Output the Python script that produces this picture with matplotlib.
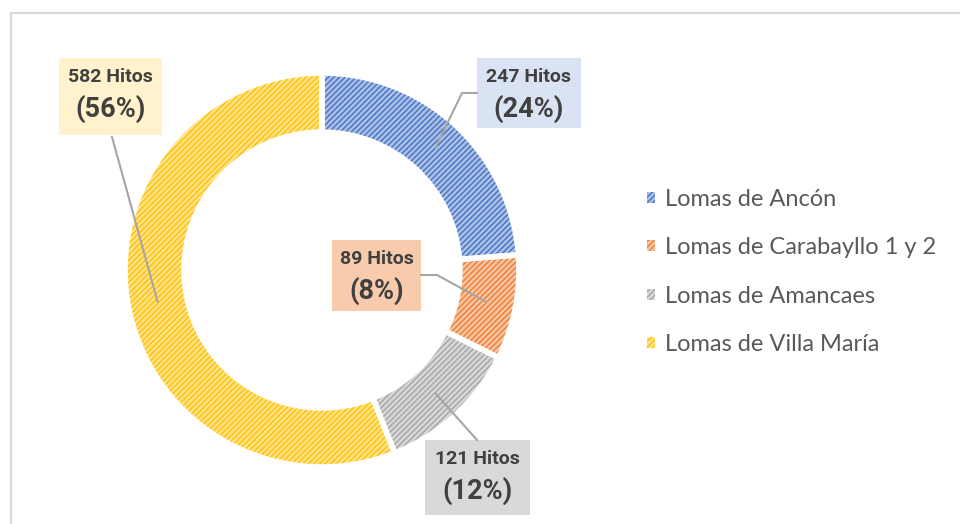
import matplotlib
matplotlib.use("Agg")
import matplotlib.pyplot as plt
from matplotlib.patches import Rectangle, Patch
import matplotlib.colors as mcolors
import numpy as np

categories = ["Lomas de Ancón", "Lomas de Carabayllo 1 y 2", "Lomas de Amancaes", "Lomas de Villa María"]
values = [247, 89, 121, 582]
pct_labels = ["(24%)", "(8%)", "(12%)", "(56%)"]
colors = ["#4472C4", "#ED7D31", "#A5A5A5", "#FFC000"]
box_colors = ["#DAE3F3", "#F8CBAD", "#D9D9D9", "#FFF2CC"]

W, H = 960, 524
plt.rcParams['hatch.linewidth'] = 1.0
fig = plt.figure(figsize=(9.6, 5.24), dpi=100)

def fx(x):
    return x / W
def fy(y):
    return 1 - y / H

# frame
fig.patches.append(Rectangle((fx(11), -0.1), 1.2, fy(13) + 0.1, transform=fig.transFigure,
                             fill=False, edgecolor="#D9D9D9", linewidth=1.5))

cx, cy, R = 322, 270, 197
ax = fig.add_axes([fx(cx - R), fy(cy + R), 2 * R / W, 2 * R / H])

light = [tuple(np.array(mcolors.to_rgb(c)) * 0.45 + 0.55) for c in colors]
wedges, _ = ax.pie(values, colors=light, startangle=90, counterclock=False, radius=1,
                   wedgeprops=dict(width=0.3, linewidth=0))
for w, c in zip(wedges, colors):
    w.set_hatch("//////")
    w.set_edgecolor(c)
    w.set_linewidth(0)
ax.pie(values, colors=["none"] * 4, startangle=90, counterclock=False, radius=1,
       wedgeprops=dict(width=0.3, linewidth=4, edgecolor="white", fill=False))
ax.set_xlim(-1, 1); ax.set_ylim(-1, 1); ax.axis("off")

# label boxes (pixel layout)
boxes = [(477, 58, 581, 128), (332, 240, 421, 311), (425, 440, 530, 515), (59, 58, 162, 135)]
elbows = [((462, 93), (477, 93)), ((437, 275), (421, 275)), (None, (477, 440)), (None, (112, 137))]
font = ['Roboto', 'DejaVu Sans']
total = sum(values)
ang = 90.0
for i, v in enumerate(values):
    span = v / total * 360
    mid = np.deg2rad(ang - span / 2)
    ang -= span
    px = cx + 0.85 * R * np.cos(mid)
    py = cy - 0.85 * R * np.sin(mid)
    x0, y0, x1, y1 = boxes[i]
    fig.patches.append(Rectangle((fx(x0), fy(y1)), (x1 - x0) / W, (y1 - y0) / H,
                                 transform=fig.transFigure, facecolor=box_colors[i],
                                 edgecolor="none", zorder=3))
    el, end = elbows[i]
    pts = [(px, py)] + ([el] if el else []) + [end]
    fig.add_artist(plt.Line2D([fx(p[0]) for p in pts], [fy(p[1]) for p in pts],
                              transform=fig.transFigure, color="#A6A6A6", linewidth=1.5, zorder=4))
    xc = (x0 + x1) / 2
    fig.text(fx(xc), fy(y0 + 19), f"{v} Hitos", ha="center", va="center", fontsize=14,
             fontweight="bold", family=font, color="#404040", zorder=5)
    fig.text(fx(xc), fy(y0 + 51), pct_labels[i], ha="center", va="center", fontsize=19.5,
             fontweight="bold", family=font, color="#404040", zorder=5)

handles = [Patch(facecolor=l, edgecolor=c, hatch="//////", linewidth=0) for l, c in zip(light, colors)]
leg = fig.legend(handles, categories, loc="center left", bbox_to_anchor=(fx(647), fy(272)),
                 frameon=False, prop=dict(family=['Lato', 'DejaVu Sans'], size=17),
                 labelcolor="#595959", handlelength=0.35, handleheight=0.35,
                 handletextpad=0.42, labelspacing=1.16, borderpad=0, borderaxespad=0)

fig.savefig("out.png", dpi=100, facecolor="white")
